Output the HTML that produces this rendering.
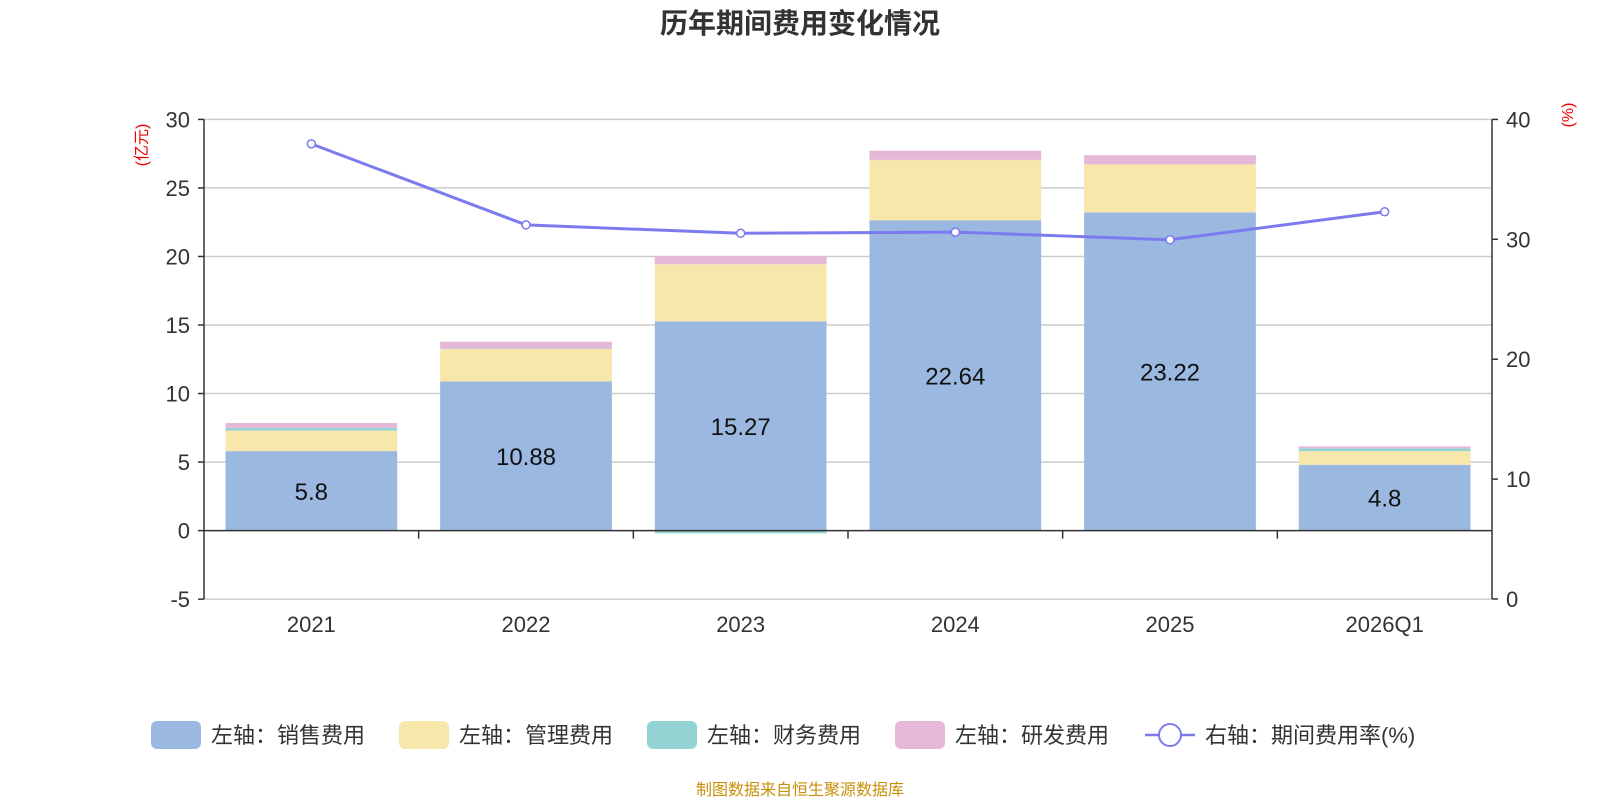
<!DOCTYPE html>
<html><head><meta charset="utf-8"><style>
body{margin:0;background:#fff;font-family:"Liberation Sans","Noto Sans CJK SC",sans-serif}
svg text{font-family:"Liberation Sans","Noto Sans CJK SC",sans-serif}
</style></head><body>
<svg id="c" width="1600" height="800" xmlns="http://www.w3.org/2000/svg">
<text x="800" y="33" text-anchor="middle" font-size="28" font-weight="bold" fill="#333">历年期间费用变化情况</text>
<text transform="translate(147,145) rotate(-90)" text-anchor="middle" font-size="16" fill="#e00">(亿元)</text>
<text transform="translate(1573,115) rotate(-90)" text-anchor="middle" font-size="16" fill="#e00">(%)</text>
<g id="grid"></g><g id="bars"></g><g id="axes"></g><g id="line"></g><g id="legend"></g>
<text x="800" y="795" text-anchor="middle" font-size="16" fill="#c8900a">制图数据来自恒生聚源数据库</text>
</svg>
<script>
const categories=["2021","2022","2023","2024","2025","2026Q1"];
const sales=[5.8,10.88,15.27,22.64,23.22,4.8];
const mgmt=[1.5,2.37,4.16,4.39,3.5,1.0];
const fin=[0.2,0.03,-0.2,0.02,-0.05,0.2];
const rnd=[0.35,0.5,0.6,0.67,0.67,0.15];
const rate=[37.96,31.2,30.5,30.6,29.96,32.3];
const leftTicks=[-5,0,5,10,15,20,25,30];
const rightTicks=[0,10,20,30,40];
const NS="http://www.w3.org/2000/svg";
const X0=204,X1=1492;
const yL=v=>530.6-(v)*(530.6-119.4)/30;
const yR=v=>599-(v)*(599-119.4)/40;
const bw=(X1-X0)/categories.length;
const xc=i=>X0+bw*(i+0.5);
function mk(t,a,p){const e=document.createElementNS(NS,t);for(const k in a)e.setAttribute(k,a[k]);document.getElementById(p).appendChild(e);return e;}
leftTicks.forEach(v=>{
 if(v!==0){const g=mk('line',{x1:X0,x2:X1,y1:yL(v),y2:yL(v),stroke:'#ccc','stroke-width':1.5},'grid');
 
 }
 const t=mk('text',{x:X0-14,y:yL(v)+8,'text-anchor':'end','font-size':22,fill:'#333'},'axes');t.textContent=v;
 
 
 mk('line',{x1:X0-6,x2:X0,y1:yL(v),y2:yL(v),stroke:'#333','stroke-width':1.5},'axes');
});
rightTicks.forEach(v=>{
 const t=mk('text',{x:X1+14,y:yR(v)+8,'font-size':22,fill:'#333'},'axes');t.textContent=v;
 
 
 mk('line',{x1:X1,x2:X1+6,y1:yR(v),y2:yR(v),stroke:'#333','stroke-width':1.5},'axes');
});
mk('line',{x1:X0,x2:X0,y1:yL(30),y2:yL(-5),stroke:'#333','stroke-width':1.5},'axes');
mk('line',{x1:X1,x2:X1,y1:yR(40),y2:yR(0),stroke:'#333','stroke-width':1.5},'axes');
mk('line',{x1:X0,x2:X1,y1:yL(0),y2:yL(0),stroke:'#333','stroke-width':1.5},'axes');
const series=[[sales,'#9bb8e1','sales-bar'],[mgmt,'#f7e7aa','mgmt-bar'],[fin,'#94d3d3','finance-bar'],[rnd,'#e6b8d8','rnd-bar']];
categories.forEach((c,i)=>{
 const cx=xc(i);
 if(i>0)mk('line',{x1:X0+bw*i,x2:X0+bw*i,y1:yL(0),y2:yL(0)+8,stroke:'#333','stroke-width':1.5},'axes');
 const t=mk('text',{x:cx,y:632,'text-anchor':'middle','font-size':22,fill:'#333'},'axes');t.textContent=c;
 
 
 let pos=0,neg=0;
 series.forEach(([arr,col,nm])=>{
  const v=arr[i];let y0,y1;
  if(v>=0){y0=pos;y1=pos+v;pos=y1;}else{y0=neg;y1=neg+v;neg=y1;}
  const r=mk('rect',{x:cx-bw*0.4,width:bw*0.8,y:Math.min(yL(y0),yL(y1)),height:Math.abs(yL(y1)-yL(y0)),fill:col},'bars');
  
  
 });
 const l=mk('text',{x:cx,y:yL(sales[i]/2)+9,'text-anchor':'middle','font-size':24,fill:'#111'},'bars');l.textContent=sales[i];
 
 
});
const pts=rate.map((v,i)=>xc(i)+','+yR(v)).join(' ');
const pl=mk('polyline',{points:pts,fill:'none',stroke:'#7b7bef','stroke-width':3},'line');


rate.forEach((v,i)=>{const p=mk('circle',{cx:xc(i),cy:yR(v),r:4,fill:'#fff',stroke:'#7b7bef','stroke-width':1.5},'line');
 
 });
const leg=[['左轴：销售费用','#9bb8e1',151],['左轴：管理费用','#f7e7aa',399],['左轴：财务费用','#94d3d3',647],['左轴：研发费用','#e6b8d8',895]];
leg.forEach(([t,c,x])=>{
 const r=mk('rect',{x:x,y:721,width:50,height:28,rx:6,fill:c},'legend');
 
 
 const tx=mk('text',{x:x+60,y:743,'font-size':22,fill:'#333'},'legend');tx.textContent=t;
 
 
});
mk('line',{x1:1145,x2:1195,y1:735,y2:735,stroke:'#7b7bef','stroke-width':2.5},'legend');
const lc=mk('circle',{cx:1170,cy:735,r:11,fill:'#fff',stroke:'#7b7bef','stroke-width':2},'legend');


const lt=mk('text',{x:1205,y:743,'font-size':22,fill:'#333'},'legend');lt.textContent='右轴：期间费用率(%)';


</script>
</body></html>
